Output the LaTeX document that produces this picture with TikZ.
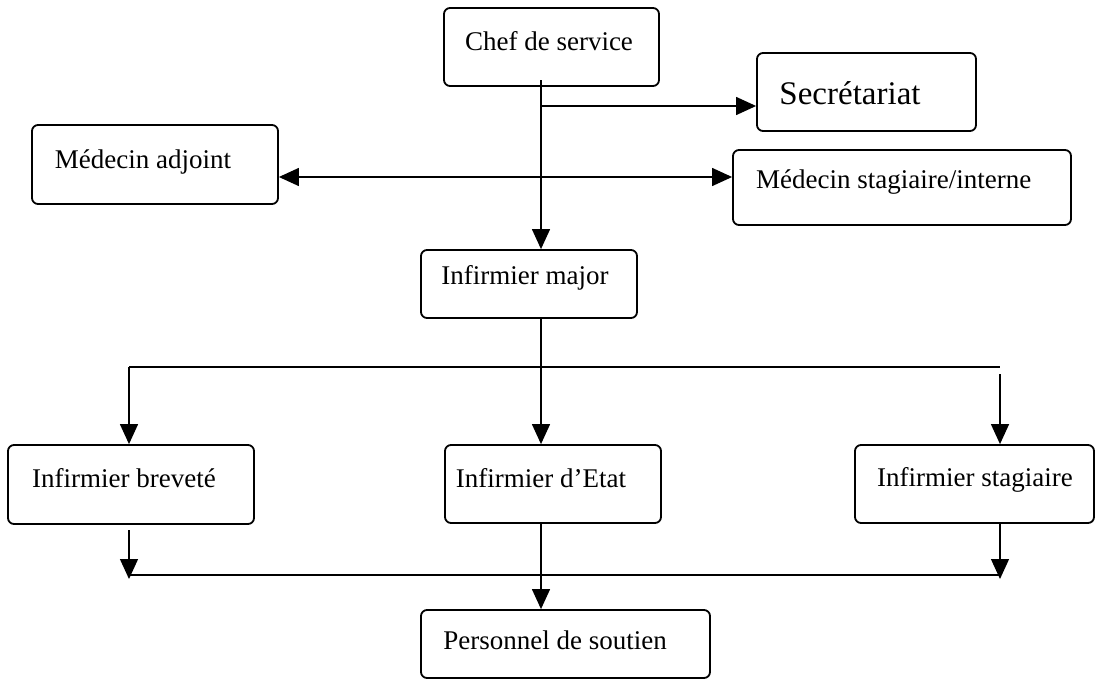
\documentclass[tikz,border=0pt]{standalone}
\usepackage{fontspec}
\setmainfont{Liberation Serif}
\usetikzlibrary{arrows.meta}
\begin{document}
\begin{tikzpicture}[x=1pt,y=-1pt,
  box/.style={draw, line width=1.8pt, rounded corners=6pt, inner sep=0pt},
  lbl/.style={inner sep=0pt, anchor=base, font=\fontsize{27}{30}\selectfont},
  link/.style={line width=1.3pt},
  tip/.style={-{Triangle[length=20pt,width=18pt]}},
  arr/.style={link, tip}
]
\useasboundingbox (0,0) rectangle (1095,680);

% boxes (centre, size)
\node[box, minimum width=215pt, minimum height=78pt] (chef)  at (551.5,47) {};
\node[box, minimum width=219pt, minimum height=78pt] (sec)   at (866.5,92) {};
\node[box, minimum width=246pt, minimum height=79pt] (adj)   at (155,164.5) {};
\node[box, minimum width=338pt, minimum height=75pt] (mstag) at (902,187.5) {};
\node[box, minimum width=216pt, minimum height=68pt] (major) at (529,284) {};
\node[box, minimum width=246pt, minimum height=79pt] (brev)  at (131,484.5) {};
\node[box, minimum width=216pt, minimum height=78pt] (etat)  at (553,484) {};
\node[box, minimum width=239pt, minimum height=78pt] (istag) at (974.5,484) {};
\node[box, minimum width=289pt, minimum height=68pt] (pers)  at (565.5,644) {};

% labels
\node[lbl] at (549,50) {Chef de service};
\node[lbl, font=\fontsize{33}{36}\selectfont] at (850,104) {Secrétariat};
\node[lbl] at (143,168) {Médecin adjoint};
\node[lbl, anchor=base west] at (756,188) {Médecin stagiaire/interne};
\node[lbl] at (525,284) {Infirmier major};
\node[lbl] at (124,487) {Infirmier breveté};
\node[lbl] at (541,487) {Infirmier d’Etat};
\node[lbl] at (975,486) {Infirmier stagiaire};
\node[lbl] at (555,649) {Personnel de soutien};

% junction points
\coordinate (top)  at (541,80);
\coordinate (jsec) at (541,106);
\coordinate (jmed) at (541,177);
\coordinate (jinf) at (541,367);
\coordinate (jl)   at (129,367);
\coordinate (jr)   at (1000,367);
\coordinate (jr2)  at (1000,374);
\coordinate (bl)   at (129,530);
\coordinate (bll)  at (129,579);
\coordinate (bls)  at (129,575);
\coordinate (blr)  at (1000,575);
\coordinate (br)   at (1000,579);

% chef de service branch
\draw[arr] (top) -- (top |- major.north);
\draw[arr] (jsec) -- (jsec -| sec.west);
\draw[link, {Triangle[length=20pt,width=18pt]}-{Triangle[length=20pt,width=18pt]}]
  (jmed -| adj.east) -- (jmed -| mstag.west);

% infirmier major branch
\draw[link] (major.south -| jinf) -- (jinf);
\draw[arr] (jinf) -- (jinf |- etat.north);
\draw[link] (jl) -- (jr);
\draw[arr] (jl) -- (jl |- brev.north);
\draw[arr] (jr2) -- (jr2 |- istag.north);

% towards personnel de soutien
\draw[arr] (bl) -- (bll);
\draw[arr] (istag.south -| br) -- (br);
\draw[link] (bls) -- (blr);
\draw[arr] (etat.south -| jinf) -- (jinf |- pers.north);
\end{tikzpicture}
\end{document}
